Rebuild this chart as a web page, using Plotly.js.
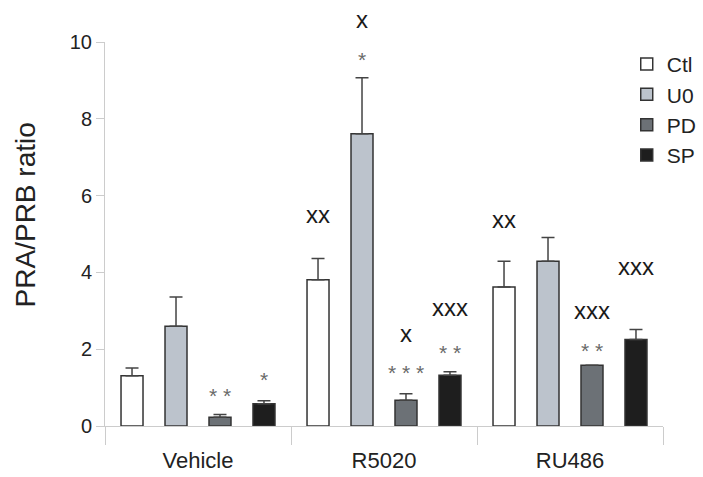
<!DOCTYPE html>
<html>
<head>
<meta charset="utf-8">
<script src="https://cdn.plot.ly/plotly-3.0.1.min.js"></script>
<style>html,body{margin:0;padding:0;background:#fff;}#chart{width:703px;height:477px;}</style>
</head>
<body>
<div id="chart"></div>
<script>
// ---- data ----
const groups = ["Vehicle", "R5020", "RU486"];
const seriesNames = ["Ctl", "U0", "PD", "SP"];
const ctlVals = [1.31, 3.81, 3.62];
const ctlErr  = [0.20, 0.55, 0.67];
const u0Vals  = [2.60, 7.61, 4.29];
const u0Err   = [0.76, 1.46, 0.62];
const pdVals  = [0.23, 0.67, 1.58];
const pdErr   = [0.07, 0.17, 0.00];
const spVals  = [0.58, 1.32, 2.25];
const spErr   = [0.08, 0.09, 0.26];
const yTicks  = [0, 2, 4, 6, 8, 10];
const yMax = 10;
const yTitle = "PRA/PRB ratio";

// significance marks: [group, series index, text, y value, kind]
const marks = [
  ["Vehicle", 2, "* *", 0.89, "star"],
  ["Vehicle", 3, "*", 1.32, "star"],
  ["R5020", 0, "xx", 5.44, "x"],
  ["R5020", 1, "x", 10.52, "x"],
  ["R5020", 1, "*", 9.65, "star"],
  ["R5020", 2, "x", 2.34, "x"],
  ["R5020", 2, "* * *", 1.51, "star"],
  ["R5020", 3, "xxx", 3.01, "x"],
  ["R5020", 3, "* *", 2.03, "star"],
  ["RU486", 0, "xx", 5.30, "x"],
  ["RU486", 2, "xxx", 2.93, "x"],
  ["RU486", 2, "* *", 2.08, "star"],
  ["RU486", 3, "xxx", 4.07, "x"]
];

// ---- styles ----
const FONT = "Liberation Sans, Arial, sans-serif";
const colors = ["#ffffff", "#bcc3cc", "#6c7176", "#1e1e1e"];
const vals = [ctlVals, u0Vals, pdVals, spVals];
const errs = [ctlErr, u0Err, pdErr, spErr];

const traces = seriesNames.map((n, i) => ({
  type: "bar",
  name: n,
  legendgroup: n,
  x: groups,
  y: vals[i],
  marker: {color: colors[i], line: {color: "#333333", width: 1.5}},
  error_y: {type: "data", array: errs[i], arrayminus: errs[i].map(() => 0), symmetric: false,
            color: "#444444", thickness: 1.5, width: 6.5, visible: true},
  cliponaxis: false
}));

// bar center offsets in px relative to category center
const slotPx = 44;
const offs = [-1.5, -0.5, 0.5, 1.5].map(k => k * slotPx);

const annotations = marks.map(m => ({
  x: m[0], y: m[3] / yMax, xref: "x", yref: "paper",
  xshift: offs[m[1]],
  yshift: m[4] === "x" ? 3 : -4,
  text: m[2], showarrow: false,
  yanchor: "middle",
  font: m[4] === "x" ? {family: FONT, size: 24, color: "#1a1a1a"} : {family: FONT, size: 21, color: "#6a6a6a"}
}));

// y-axis title (placed as a rotated annotation so it can sit slightly above centre, as in the reference)
annotations.push({
  xref: "paper", yref: "paper", x: -0.143, y: 0.549,
  xanchor: "center", yanchor: "middle", textangle: -90, showarrow: false,
  text: yTitle, font: {family: FONT, size: 28, color: "#222222"}
});

const layout = {
  width: 703, height: 477,
  margin: {l: 105, r: 40, t: 42, b: 51, autoexpand: false},
  paper_bgcolor: "#ffffff", plot_bgcolor: "#ffffff",
  barmode: "group", bargap: 0.054, bargroupgap: 0.5,
  showlegend: true,
  legend: {x: 0.935, y: 0.995, xanchor: "left", yanchor: "top",
           font: {family: FONT, size: 21, color: "#222222"},
           tracegroupgap: 4,
           bgcolor: "rgba(0,0,0,0)", itemwidth: 30, traceorder: "normal"},
  xaxis: {
    type: "category", tickson: "boundaries", ticks: "outside", ticklen: 18, tickcolor: "#cccccc",
    ticklabelstandoff: 15,
    showline: true, linecolor: "#cccccc", linewidth: 1,
    tickfont: {family: FONT, size: 22, color: "#222222"},
    showgrid: false, zeroline: false
  },
  yaxis: {
    range: [0, yMax], tickvals: yTicks, ticktext: yTicks.map(String),
    ticks: "outside", ticklen: 8, tickcolor: "#cccccc",
    showline: true, linecolor: "#cccccc", linewidth: 1,
    tickfont: {family: FONT, size: 20, color: "#222222"},
    showgrid: false, zeroline: false
  },
  annotations: annotations
};

Plotly.newPlot("chart", traces, layout, {displayModeBar: false, staticPlot: true});
</script>
</body>
</html>
